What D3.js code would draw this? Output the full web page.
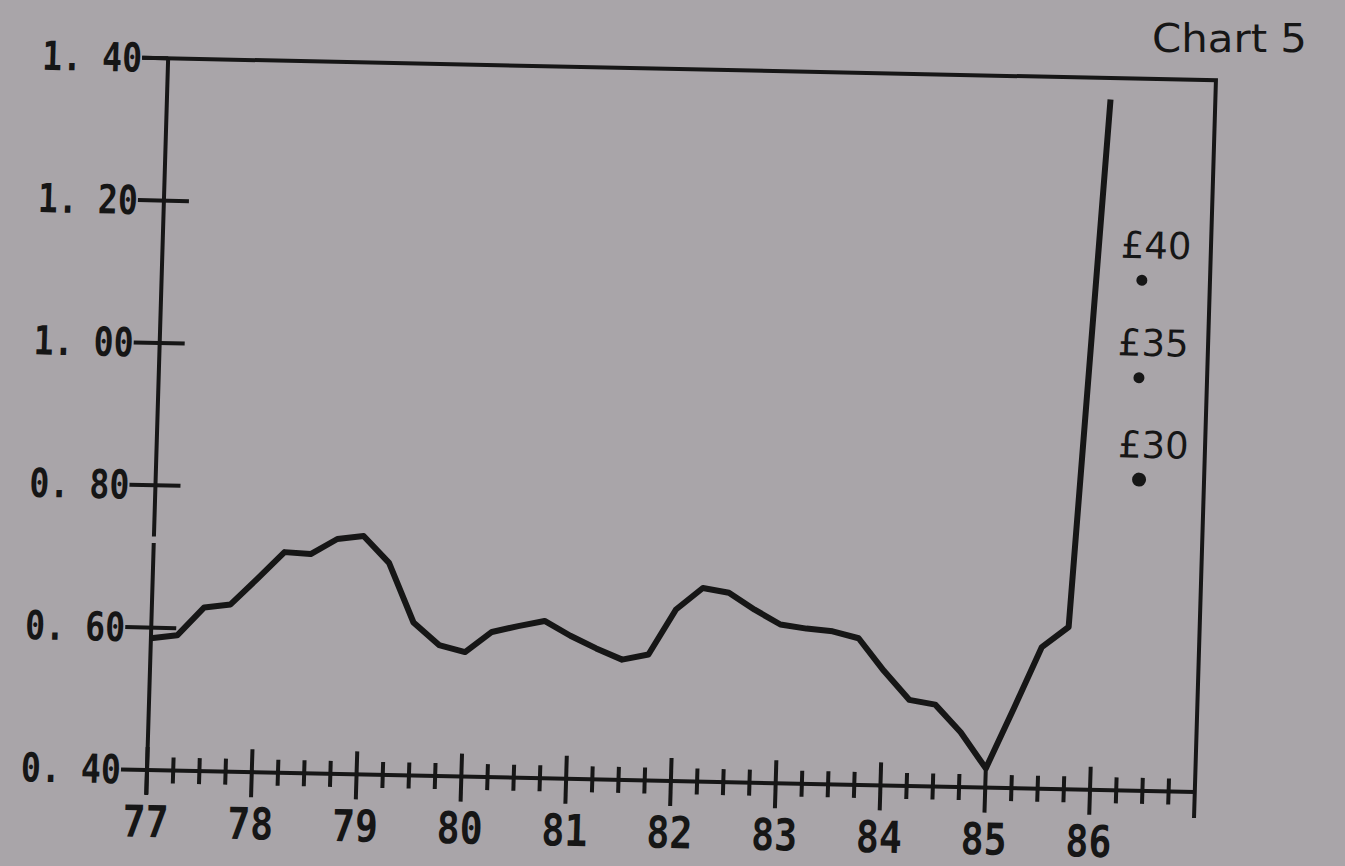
<!DOCTYPE html>
<html>
<head>
<meta charset="utf-8">
<script src="https://cdn.jsdelivr.net/npm/d3@7"></script>
<style>
  html, body { margin: 0; padding: 0; background: #a9a5a9; }
  svg { display: block; }
</style>
</head>
<body>
<div id="chart"></div>
<script>
const quarters = [
    77, 77.25, 77.5, 77.75, 78, 78.25, 78.5, 78.75, 79, 79.25, 79.5, 79.75,
    80, 80.25, 80.5, 80.75, 81, 81.25, 81.5, 81.75, 82, 82.25, 82.5, 82.75,
    83, 83.25, 83.5, 83.75, 84, 84.25, 84.5, 84.75, 85, 85.25, 85.5, 85.75, 86
];
const ratio = [
    0.585, 0.590, 0.630, 0.635, 0.672, 0.710, 0.708, 0.730, 0.735, 0.698, 0.615, 0.584,
    0.575, 0.604, 0.613, 0.621, 0.601, 0.584, 0.569, 0.577, 0.641, 0.672, 0.666, 0.643,
    0.623, 0.618, 0.615, 0.606, 0.561, 0.521, 0.515, 0.477, 0.427, 0.512, 0.599, 0.628, 1.370
];

const yearTicks = [77, 78, 79, 80, 81, 82, 83, 84, 85, 86];
const yearLabels = ["77", "78", "79", "80", "81", "82", "83", "84", "85", "86"];
const yTicks = [0.4, 0.6, 0.8, 1.0, 1.2, 1.4];
const yTickLabels = ["0. 40", "0. 60", "0. 80", "1. 00", "1. 20", "1. 40"];

// oil price scenarios marked at the right
const priceLabels = ["£40", "£35", "£30"];
const priceYear = [86.35, 86.35, 86.38];
const priceValue = [1.117, 0.980, 0.837];

const W = 1345, H = 866;
const plotW = 1048, plotH = 712;
const ink = "#161616";

const svg = d3.select("#chart")
    .append("svg")
    .attr("width", W)
    .attr("height", H);

svg.append("rect")
    .attr("width", W)
    .attr("height", H)
    .attr("fill", "#a9a5a9");

// the photographed page is slightly rotated / skewed
const g = svg.append("g")
    .attr("transform", "matrix(0.9998, 0.021, -0.0297, 0.9996, 147, 770)");

const x = d3.scaleLinear().domain([77, 87]).range([0, plotW]);
const y = d3.scaleLinear().domain([0.4, 1.4]).range([0, -plotH]);

// frame: top border and right border
g.append("path")
    .attr("d", `M${-26},${y(1.4)}H${x(87)}V${26}`)
    .attr("fill", "none")
    .attr("stroke", ink)
    .attr("stroke-width", 4);

// y axis (the plotter pen skipped briefly just above 0.70)
g.append("path")
    .attr("d", `M0,${y(1.4)}V${y(0.728)}M0,${y(0.719)}V24`)
    .attr("fill", "none")
    .attr("stroke", ink)
    .attr("stroke-width", 4);

// x axis
g.append("line")
    .attr("x1", 0).attr("x2", x(87))
    .attr("y1", 0).attr("y2", 0)
    .attr("stroke", ink)
    .attr("stroke-width", 4);

// y ticks & labels
g.selectAll(".ytick")
    .data(yTicks)
    .enter()
    .append("line")
    .attr("class", "ytick")
    .attr("x1", -26)
    .attr("x2", (d) => (d === 0.4 || d === 1.4 ? 0 : 25))
    .attr("y1", (d) => y(d))
    .attr("y2", (d) => y(d))
    .attr("stroke", ink)
    .attr("stroke-width", 4);

g.selectAll(".ylabel")
    .data(yTicks)
    .enter()
    .append("text")
    .attr("class", "ylabel")
    .attr("x", -126)
    .attr("y", (d) => y(d) + 14)
    .attr("textLength", 100)
    .attr("lengthAdjust", "spacingAndGlyphs")
    .style("font-family", "'DejaVu Sans Mono', monospace")
    .style("font-weight", "bold")
    .style("font-size", "40px")
    .attr("fill", ink)
    .text((d, i) => yTickLabels[i]);

// x ticks: quarters (minor) and years (major)
const minorTicks = d3.range(77, 87, 0.25).filter((d) => d % 1 !== 0);

g.selectAll(".xminor")
    .data(minorTicks)
    .enter()
    .append("line")
    .attr("class", "xminor")
    .attr("x1", (d) => x(d))
    .attr("x2", (d) => x(d))
    .attr("y1", -13)
    .attr("y2", 13)
    .attr("stroke", ink)
    .attr("stroke-width", 4);

g.selectAll(".xmajor")
    .data(yearTicks)
    .enter()
    .append("line")
    .attr("class", "xmajor")
    .attr("x1", (d) => x(d))
    .attr("x2", (d) => x(d))
    .attr("y1", -23)
    .attr("y2", 25)
    .attr("stroke", ink)
    .attr("stroke-width", 4);

g.selectAll(".xlabel")
    .data(yearTicks)
    .enter()
    .append("text")
    .attr("class", "xlabel")
    .attr("x", (d) => x(d))
    .attr("y", 67)
    .attr("text-anchor", "middle")
    .attr("textLength", 46)
    .attr("lengthAdjust", "spacingAndGlyphs")
    .style("font-family", "'DejaVu Sans Mono', monospace")
    .style("font-weight", "bold")
    .style("font-size", "44px")
    .attr("fill", ink)
    .text((d, i) => yearLabels[i]);

// the series
const line = d3.line()
    .x((d) => x(d[0]))
    .y((d) => y(d[1]));

g.append("path")
    .datum(quarters.map((q, i) => [q, ratio[i]]))
    .attr("d", line)
    .attr("fill", "none")
    .attr("stroke", ink)
    .attr("stroke-width", 6)
    .attr("stroke-linejoin", "round");

// price scenario points
const prices = g.selectAll(".price")
    .data(priceLabels)
    .enter()
    .append("g")
    .attr("class", "price");

prices.append("circle")
    .attr("cx", (d, i) => x(priceYear[i]))
    .attr("cy", (d, i) => y(priceValue[i]))
    .attr("r", (d, i) => (i === 2 ? 7 : 5.5))
    .attr("fill", ink);

prices.append("text")
    .attr("x", (d, i) => x(priceYear[i]) - 22)
    .attr("y", (d, i) => y(priceValue[i]) - 22)
    .style("font-family", "'DejaVu Sans', sans-serif")
    .style("font-size", "37px")
    .attr("fill", ink)
    .text((d) => d);

svg.append("text")
    .attr("x", 1307)
    .attr("y", 52)
    .attr("text-anchor", "end")
    .attr("textLength", 155)
    .attr("lengthAdjust", "spacingAndGlyphs")
    .style("font-family", "'DejaVu Sans', sans-serif")
    .style("font-size", "39px")
    .attr("fill", ink)
    .text("Chart 5");
</script>
</body>
</html>
